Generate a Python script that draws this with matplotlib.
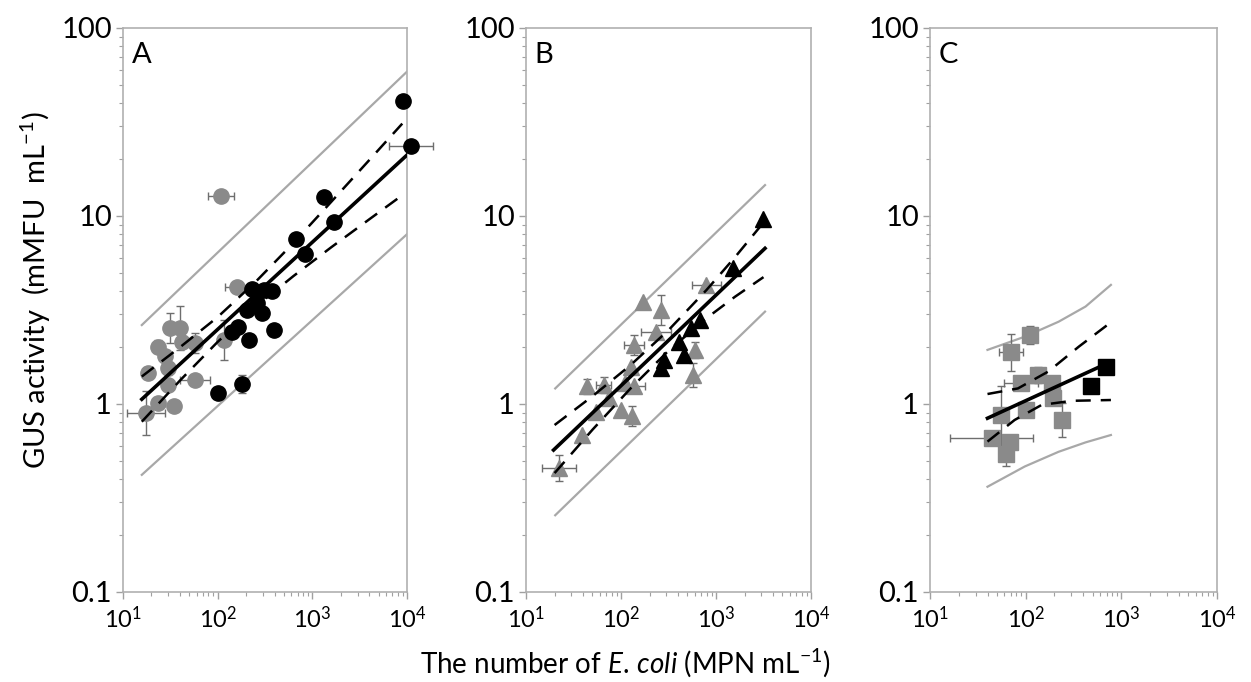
import matplotlib
matplotlib.use("Agg")
import numpy as np
import matplotlib.pyplot as plt
from matplotlib.ticker import LogLocator, FixedLocator, FixedFormatter, NullFormatter

plt.rcParams['font.family'] = ['Lato', 'DejaVu Sans']
plt.rcParams['mathtext.fontset'] = 'custom'
plt.rcParams['mathtext.rm'] = 'Lato'
plt.rcParams['mathtext.it'] = 'Lato:italic'

GRAY = '#8a8a8a'
LINE_GRAY = '#a8a8a8'

# ---------------- panel A (circles) ----------------
a_blk_x = [9000, 11000, 1330, 1680, 670, 830, 232, 308, 377, 205, 262, 296, 142, 163, 393, 213, 100, 181]
a_blk_y = [41, 23.7, 12.6, 9.3, 7.5, 6.3, 4.07, 4.04, 4.0, 3.16, 3.43, 3.06, 2.43, 2.58, 2.48, 2.19, 1.15, 1.28]
a_blk_xf = [1, 1.71, 1, 1, 1, 1, 1, 1, 1, 1, 1, 1, 1, 1, 1, 1, 1, 1]
a_blk_yf = [1, 1, 1, 1, 1, 1, 1, 1, 1, 1.08, 1, 1, 1, 1, 1, 1, 1, 1.12]

a_gry_x = [109, 160, 31.5, 40, 58, 42, 23.7, 27.8, 116, 30, 18.5, 58, 30, 23.7, 34.8, 17.5]
a_gry_y = [12.7, 4.2, 2.53, 2.53, 2.1, 2.14, 2.02, 1.79, 2.19, 1.55, 1.46, 1.34, 1.26, 1.01, 0.975, 0.9]
a_gry_xf = [1.37, 1.34, 1, 1, 1, 1, 1, 1, 1, 1, 1, 1.44, 1, 1.16, 1, 1.6]
a_gry_yf = [1, 1, 1.2, 1.31, 1.13, 1, 1.08, 1, 1.28, 1.08, 1.08, 1, 1, 1.08, 1, 1.31]

a_fit_x = [15.8, 10000]
a_fit_y = [1.06, 21.1]
a_ci_x = [15.8, 39.8, 100, 251, 631, 1585, 3981, 8913]
a_ci_hi = [1.40, 2.00, 2.90, 4.46, 7.18, 11.9, 19.8, 31.0]
a_ci_lo = [0.805, 1.33, 2.14, 3.29, 4.79, 6.82, 9.59, 12.9]
a_pi_x = [15.8, 10000]
a_pi_hi = [2.63, 58.6]
a_pi_lo = [0.42, 8.0]

# ---------------- panel B (triangles) ----------------
b_blk_x = [3155, 1517, 671, 548, 412, 466, 286, 264]
b_blk_y = [9.6, 5.27, 2.8, 2.53, 2.14, 1.82, 1.71, 1.55]

b_gry_x = [791, 169, 264, 233, 137, 127, 44, 66, 137, 75, 54, 99, 132, 39, 22, 594, 571, 110]
b_gry_y = [4.3, 3.5, 3.16, 2.43, 2.06, 1.58, 1.24, 1.26, 1.24, 1.07, 0.91, 0.93, 0.86, 0.68, 0.455, 1.94, 1.43, 1.3]
b_gry_xf = [1.41, 1, 1, 1.44, 1.28, 1, 1, 1.2, 1.3, 1, 1, 1, 1, 1, 1.51, 1, 1, 1]
b_gry_yf = [1, 1, 1.2, 1, 1.13, 1, 1.1, 1.1, 1, 1, 1, 1, 1.13, 1, 1.17, 1.1, 1.16, 1]

b_fit_x = [19.5, 3281]
b_fit_y = [0.569, 6.73]
b_ci_x = [20.0, 50.1, 126, 316, 794, 1585, 3162]
b_ci_hi = [0.773, 1.10, 1.61, 2.47, 4.04, 6.04, 9.23]
b_ci_lo = [0.429, 0.730, 1.21, 1.92, 2.86, 3.72, 4.73]
b_pi_x = [20.3, 3281]
b_pi_hi = [1.21, 14.6]
b_pi_lo = [0.256, 3.10]

# ---------------- panel C (squares) ----------------
c_blk_x = [689, 477]
c_blk_y = [1.58, 1.25]

c_gry_x = [110, 70, 90, 135, 187, 195, 102, 239, 55, 44, 68, 62]
c_gry_y = [2.33, 1.88, 1.29, 1.43, 1.29, 1.07, 0.93, 0.82, 0.87, 0.66, 0.63, 0.54]
c_gry_xf = [1, 1.34, 1.5, 1, 1, 1, 1, 1, 1, 2.7, 1, 1]
c_gry_yf = [1.12, 1.25, 1, 1.1, 1, 1, 1, 1.23, 1.44, 1, 1, 1.16]

c_fit_x = [39.9, 778]
c_fit_y = [0.84, 1.68]
c_ci_x = [39.9, 83.0, 173, 360, 778]
c_ci_hi = [1.13, 1.21, 1.49, 2.02, 2.72]
c_cilo_x = [39.9, 76.6, 147, 305, 778]
c_ci_lo = [0.631, 0.822, 0.989, 1.04, 1.05]
c_pi_x = [39.9, 97.7, 221, 423, 778]
c_pi_hi = [1.94, 2.28, 2.74, 3.30, 4.30]
c_pi_lo = [0.363, 0.465, 0.557, 0.625, 0.684]


def fold_err(v, f):
    v = np.asarray(v, float)
    f = np.asarray(f, float)
    return np.vstack([v - v / f, v * f - v])


def points(ax, x, y, marker, color, xf=None, yf=None, ms=11):
    if xf is None:
        xf = [1] * len(x)
    if yf is None:
        yf = [1] * len(y)
    ax.errorbar(x, y, xerr=fold_err(x, xf), yerr=fold_err(y, yf), fmt='none',
                ecolor='#6e6e6e', elinewidth=1, capsize=3, capthick=1, zorder=2, clip_on=False)
    ax.plot(x, y, linestyle='none', marker=marker, ms=ms, mfc=color, mec=color,
            zorder=3, clip_on=False)


def lines(ax, fx, fy, hx, hi, lx, lo, px, phi, plo):
    ax.plot(px, phi, color=LINE_GRAY, lw=1.6, zorder=1)
    ax.plot(px, plo, color=LINE_GRAY, lw=1.6, zorder=1)
    ax.plot(hx, hi, color='black', lw=1.8, dashes=(6, 4), zorder=4)
    ax.plot(lx, lo, color='black', lw=1.8, dashes=(6, 4), zorder=4)
    ax.plot(fx, fy, color='black', lw=2.6, zorder=5)


def style(ax, letter):
    ax.set_xscale('log')
    ax.set_yscale('log')
    ax.set_xlim(10, 1e4)
    ax.set_ylim(0.1, 100)
    for s in ax.spines.values():
        s.set_color('#b0b0b0')
        s.set_linewidth(1.2)
    ax.yaxis.set_major_locator(FixedLocator([0.1, 1, 10, 100]))
    ax.yaxis.set_major_formatter(FixedFormatter(['0.1', '1', '10', '100']))
    ax.yaxis.set_minor_locator(LogLocator(base=10, subs=np.arange(2, 10)))
    ax.yaxis.set_minor_formatter(NullFormatter())
    ax.xaxis.set_major_locator(LogLocator(base=10, numticks=10))
    ax.xaxis.set_minor_locator(LogLocator(base=10, subs=np.arange(2, 10), numticks=10))
    ax.xaxis.set_minor_formatter(NullFormatter())
    ax.tick_params(which='major', length=5, width=1, color='#a0a0a0', direction='out')
    ax.tick_params(which='minor', length=3, width=0.8, color='#a0a0a0', direction='out')
    ax.tick_params(axis='y', labelsize=21, pad=3)
    ax.tick_params(axis='x', labelsize=17, pad=5)
    ax.text(0.03, 0.975, letter, transform=ax.transAxes, fontsize=21, va='top', ha='left')


fig = plt.figure(figsize=(12.51, 6.82), dpi=100)
bottom = 90 / 682
height = 564 / 682
axA = fig.add_axes([123 / 1251, bottom, 284 / 1251, height])
axB = fig.add_axes([526 / 1251, bottom, 285 / 1251, height])
axC = fig.add_axes([930 / 1251, bottom, 287 / 1251, height])

points(axA, a_gry_x, a_gry_y, 'o', GRAY, a_gry_xf, a_gry_yf)
points(axA, a_blk_x, a_blk_y, 'o', 'black', a_blk_xf, a_blk_yf)
lines(axA, a_fit_x, a_fit_y, a_ci_x, a_ci_hi, a_ci_x, a_ci_lo, a_pi_x, a_pi_hi, a_pi_lo)
style(axA, 'A')

points(axB, b_gry_x, b_gry_y, '^', GRAY, b_gry_xf, b_gry_yf)
points(axB, b_blk_x, b_blk_y, '^', 'black')
lines(axB, b_fit_x, b_fit_y, b_ci_x, b_ci_hi, b_ci_x, b_ci_lo, b_pi_x, b_pi_hi, b_pi_lo)
style(axB, 'B')

points(axC, c_gry_x, c_gry_y, 's', GRAY, c_gry_xf, c_gry_yf, ms=12)
points(axC, c_blk_x, c_blk_y, 's', 'black', ms=12)
lines(axC, c_fit_x, c_fit_y, c_ci_x, c_ci_hi, c_cilo_x, c_ci_lo, c_pi_x, c_pi_hi, c_pi_lo)
style(axC, 'C')

fig.text(36 / 1251, 1 - 290 / 682, 'GUS activity  (mMFU  mL$^{-1}$)', rotation=90,
         fontsize=21, ha='center', va='center')
fig.text(0.5, 1 - 663 / 682, 'The number of $\\mathit{E.\\,coli}$ (MPN mL$^{-1}$)',
         fontsize=20, ha='center', va='center')

fig.savefig('out.png', dpi=100)
